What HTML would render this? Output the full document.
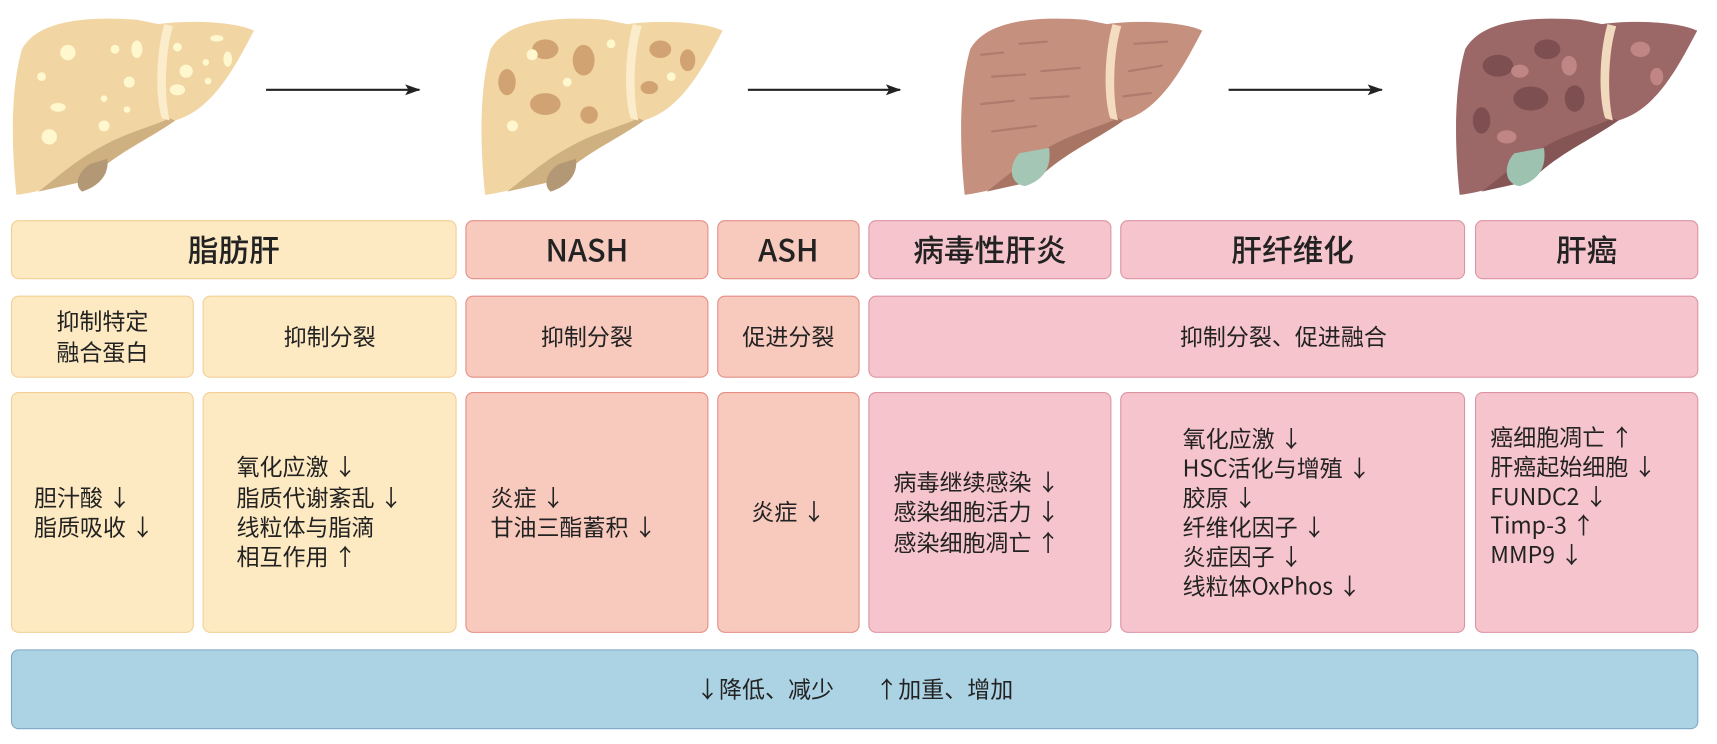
<!DOCTYPE html>
<html><head><meta charset="utf-8"><style>
html,body{margin:0;padding:0;background:#fff;width:1717px;height:743px;overflow:hidden}
#w{position:absolute;left:0;top:0;width:1568px;height:679px;transform:scale(1.095);transform-origin:0 0;font-family:"Noto Sans CJK SC","Liberation Sans",sans-serif;color:#222}
.b{position:absolute;box-sizing:border-box;border-radius:7px;border:1.5px solid;display:flex;align-items:center;justify-content:center;text-align:center;font-size:21px;line-height:1.3}
.y{background:#fde9c2;border-color:#f3cf96}
.s{background:#f8c9bd;border-color:#e48e86}
.p{background:#f6c4cd;border-color:#dc94a2}
.h{font-size:28px;font-weight:500}
.l{justify-content:flex-start;text-align:left}
svg{position:absolute;left:0;top:0}
</style></head><body><div id="w">
<svg width="1568" height="190">
<defs>
<marker id="a" markerUnits="userSpaceOnUse" markerWidth="14" markerHeight="12" refX="13" refY="6" orient="auto"><path d="M0,1 L14,6 L0,11 L3,6 Z" fill="#222"/></marker>
</defs>
<g stroke="#222" stroke-width="2" marker-end="url(#a)">
<line x1="243" y1="82" x2="383" y2="82"/><line x1="683" y1="82" x2="822" y2="82"/><line x1="1122" y1="82" x2="1262" y2="82"/>
</g>
<g transform="translate(10,10)">
<path d="M10,35 C25,8 70,5 115,8 L135,12 C165,8 205,10 222,18 C205,50 185,90 150,100 C120,112 90,128 70,145 C50,158 28,165 5,168 C0,120 0,70 10,35 Z" fill="#f1d6a4"/>
<path d="M150,100 C125,118 95,130 70,155 L25,165 C45,150 60,135 90,120 C110,110 130,105 145,98 Z" fill="#cfb081"/>
<path d="M72,140 C60,148 58,160 65,165 C80,160 90,150 88,135 Z" fill="#b39875"/>
<path d="M140,12 C132,40 132,80 138,98 L145,100 C140,80 140,40 148,14 Z" fill="#fbeccb"/>
<g fill="#fff8cf"><circle cx="52" cy="38" r="7"/><circle cx="95" cy="35" r="4"/><ellipse cx="115" cy="35" rx="5" ry="8"/><circle cx="28" cy="60" r="4"/><circle cx="108" cy="65" r="5"/><ellipse cx="43" cy="88" rx="7" ry="4"/><circle cx="85" cy="80" r="3"/><circle cx="85" cy="105" r="5"/><circle cx="35" cy="115" r="7"/><circle cx="106" cy="90" r="3"/><circle cx="152" cy="33" r="4"/><ellipse cx="188" cy="25" rx="6" ry="3"/><circle cx="160" cy="55" r="6"/><circle cx="178" cy="47" r="3"/><ellipse cx="198" cy="44" rx="4" ry="7"/><ellipse cx="152" cy="72" rx="7" ry="5"/><circle cx="180" cy="64" r="3"/></g>
</g>
<g transform="translate(438,10)">
<path d="M10,35 C25,8 70,5 115,8 L135,12 C165,8 205,10 222,18 C205,50 185,90 150,100 C120,112 90,128 70,145 C50,158 28,165 5,168 C0,120 0,70 10,35 Z" fill="#f1d6a4"/>
<path d="M150,100 C125,118 95,130 70,155 L25,165 C45,150 60,135 90,120 C110,110 130,105 145,98 Z" fill="#cfb081"/>
<path d="M72,140 C60,148 58,160 65,165 C80,160 90,150 88,135 Z" fill="#b39875"/>
<path d="M140,12 C132,40 132,80 138,98 L145,100 C140,80 140,40 148,14 Z" fill="#fbeccb"/>
<g fill="#d2a372"><ellipse cx="60" cy="35" rx="12" ry="9"/><ellipse cx="25" cy="65" rx="8" ry="12"/><ellipse cx="95" cy="45" rx="10" ry="14"/><ellipse cx="60" cy="85" rx="14" ry="10"/><ellipse cx="100" cy="95" rx="8" ry="8"/><ellipse cx="165" cy="35" rx="10" ry="8"/><ellipse cx="190" cy="45" rx="7" ry="10"/><ellipse cx="155" cy="70" rx="8" ry="6"/></g>
<g fill="#fff8cf"><circle cx="48" cy="40" r="5"/><circle cx="120" cy="30" r="4"/><circle cx="30" cy="105" r="5"/><circle cx="80" cy="65" r="4"/><circle cx="175" cy="60" r="4"/></g>
</g>
<g transform="translate(876,10)">
<path d="M10,35 C25,8 70,5 115,8 L135,12 C165,8 205,10 222,18 C205,50 185,90 150,100 C120,112 90,128 70,145 C50,158 28,165 5,168 C0,120 0,70 10,35 Z" fill="#c6907f"/>
<path d="M150,100 C125,118 95,130 70,155 L25,165 C45,150 60,135 90,120 C110,110 130,105 145,98 Z" fill="#a87565"/>
<path d="M140,12 C132,40 132,80 138,98 L145,100 C140,80 140,40 148,14 Z" fill="#f3dcc0"/>
<path d="M55,130 C45,140 45,158 60,160 C75,155 85,145 82,125 Z" fill="#a3c7b4"/>
<g stroke="#b07a6c" stroke-width="2" stroke-linecap="round"><line x1="20" y1="40" x2="40" y2="38"/><line x1="55" y1="30" x2="80" y2="28"/><line x1="30" y1="60" x2="60" y2="58"/><line x1="75" y1="55" x2="110" y2="52"/><line x1="20" y1="85" x2="50" y2="82"/><line x1="65" y1="80" x2="100" y2="78"/><line x1="30" y1="110" x2="70" y2="105"/><line x1="160" y1="30" x2="190" y2="28"/><line x1="155" y1="55" x2="185" y2="50"/><line x1="150" y1="78" x2="175" y2="75"/></g>
</g>
<g transform="translate(1328,10)">
<path d="M10,35 C25,8 70,5 115,8 L135,12 C165,8 205,10 222,18 C205,50 185,90 150,100 C120,112 90,128 70,145 C50,158 28,165 5,168 C0,120 0,70 10,35 Z" fill="#9c6767"/>
<path d="M150,100 C125,118 95,130 70,155 L25,165 C45,150 60,135 90,120 C110,110 130,105 145,98 Z" fill="#855454"/>
<path d="M140,12 C132,40 132,80 138,98 L145,100 C140,80 140,40 148,14 Z" fill="#f0d9bd"/>
<path d="M55,130 C45,140 45,158 60,160 C75,155 85,145 82,125 Z" fill="#9dc3b0"/>
<g fill="#7e4f50"><ellipse cx="40" cy="50" rx="14" ry="10"/><ellipse cx="85" cy="35" rx="12" ry="9"/><ellipse cx="70" cy="80" rx="16" ry="11"/><ellipse cx="25" cy="100" rx="8" ry="12"/><ellipse cx="110" cy="80" rx="9" ry="12"/></g>
<g fill="#c08686"><ellipse cx="60" cy="55" rx="8" ry="6"/><ellipse cx="105" cy="50" rx="7" ry="9"/><ellipse cx="170" cy="35" rx="9" ry="7"/><ellipse cx="185" cy="60" rx="6" ry="8"/><ellipse cx="48" cy="115" rx="9" ry="6"/></g>
</g>
</svg>

<div class="b y h" style="left:10px;top:201px;width:407px;height:54px">脂肪肝</div>
<div class="b s h" style="left:425px;top:201px;width:222px;height:54px">NASH</div>
<div class="b s h" style="left:655px;top:201px;width:130px;height:54px">ASH</div>
<div class="b p h" style="left:793px;top:201px;width:222px;height:54px">病毒性肝炎</div>
<div class="b p h" style="left:1023px;top:201px;width:315px;height:54px">肝纤维化</div>
<div class="b p h" style="left:1347px;top:201px;width:204px;height:54px">肝癌</div>

<div class="b y" style="left:10px;top:270px;width:167px;height:75px">抑制特定<br>融合蛋白</div>
<div class="b y" style="left:185px;top:270px;width:232px;height:75px">抑制分裂</div>
<div class="b s" style="left:425px;top:270px;width:222px;height:75px">抑制分裂</div>
<div class="b s" style="left:655px;top:270px;width:130px;height:75px">促进分裂</div>
<div class="b p" style="left:793px;top:270px;width:758px;height:75px">抑制分裂、促进融合</div>

<div class="b y l" style="left:10px;top:358px;width:167px;height:220px;padding-left:20px">胆汁酸 ↓<br>脂质吸收 ↓</div>
<div class="b y l" style="left:185px;top:358px;width:232px;height:220px;padding-left:30px">氧化应激 ↓<br>脂质代谢紊乱 ↓<br>线粒体与脂滴<br>相互作用 ↑</div>
<div class="b s l" style="left:425px;top:358px;width:222px;height:220px;padding-left:22px">炎症 ↓<br>甘油三酯蓄积 ↓</div>
<div class="b s" style="left:655px;top:358px;width:130px;height:220px">炎症 ↓</div>
<div class="b p l" style="left:793px;top:358px;width:222px;height:220px;padding-left:22px">病毒继续感染 ↓<br>感染细胞活力 ↓<br>感染细胞凋亡 ↑</div>
<div class="b p l" style="left:1023px;top:358px;width:315px;height:220px;padding-left:56px;line-height:1.28">氧化应激 ↓<br>HSC活化与增殖 ↓<br>胶原 ↓<br>纤维化因子 ↓<br>炎症因子 ↓<br>线粒体OxPhos ↓</div>
<div class="b p l" style="left:1347px;top:358px;width:204px;height:220px;padding-left:13px;padding-bottom:30px;line-height:1.28">癌细胞凋亡 ↑<br>肝癌起始细胞 ↓<br>FUNDC2 ↓<br>Timp-3 ↑<br>MMP9 ↓</div>

<div class="b" style="left:10px;top:593px;width:1541px;height:73px;background:#acd3e3;border-color:#7ea7c6">↓降低、减少&nbsp;&nbsp;&nbsp;&nbsp;&nbsp;&nbsp;&nbsp;&nbsp;↑加重、增加</div>
</div></body></html>
